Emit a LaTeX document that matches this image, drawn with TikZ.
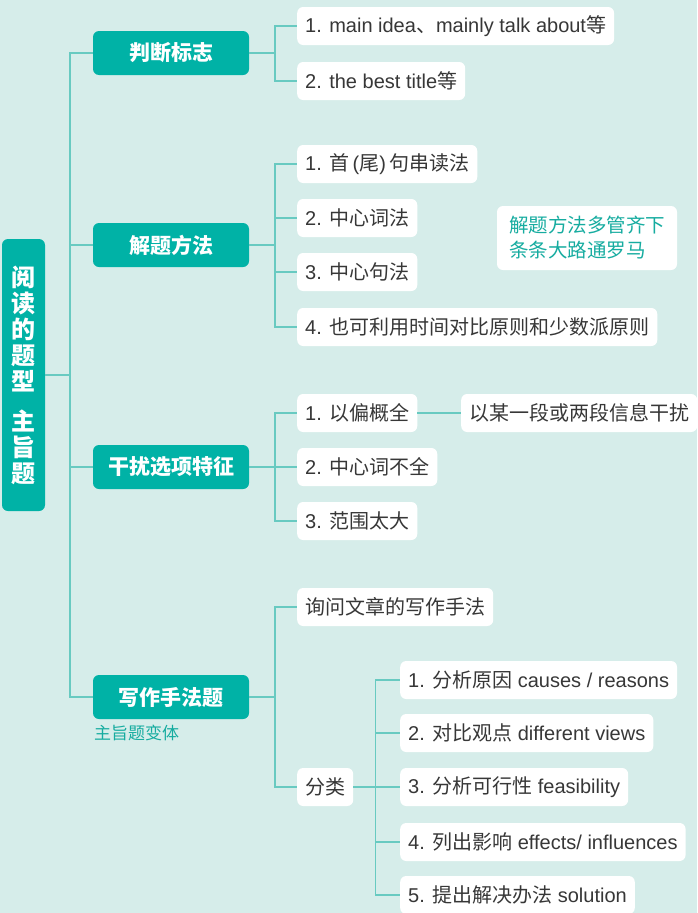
\documentclass[tikz,border=0pt]{standalone}
\usepackage{fontspec}
\setmainfont{Liberation Sans}
\newfontfamily\cjk{Noto Sans CJK SC}
\newcommand{\zh}[1]{{\cjk #1}}
\definecolor{bgmint}{RGB}{214,237,234}
\definecolor{boxteal}{RGB}{0,178,166}
\definecolor{linkteal}{RGB}{104,202,193}
\definecolor{leaftext}{RGB}{55,55,55}
\definecolor{notetext}{RGB}{22,172,160}
\tikzset{
  rootbox/.style={fill=boxteal, text=white, rounded corners=6pt, align=center,
    font=\cjk\bfseries\fontsize{24}{26}\selectfont, minimum width=43pt, minimum height=272pt, inner sep=0pt},
  mainbox/.style={fill=boxteal, text=white, rounded corners=6pt,
    font=\cjk\bfseries\fontsize{21}{24}\selectfont, minimum width=156pt, minimum height=44pt, inner sep=0pt},
  leafbox/.style={fill=white, text=leaftext, rounded corners=6pt, anchor=west,
    minimum height=38pt, inner xsep=8pt, inner ysep=0pt, font=\fontsize{20}{24}\selectfont},
  notebox/.style={fill=white, text=notetext, rounded corners=6pt, align=left,
    minimum width=180pt, minimum height=64pt, font=\cjk\fontsize{19.5}{25}\selectfont},
  link/.style={draw=linkteal, line width=1.5pt}
}
\begin{document}
\begin{tikzpicture}[x=1pt,y=-1pt]
  \useasboundingbox (0,0) rectangle (697,913);
  \clip (0,0) rectangle (697,913);
  \fill[bgmint] (0,0) rectangle (697,913);

  % Marking root and branches
  \node[rootbox] (root) at (23.5,375) {阅\\读\\的\\题\\型\\[14pt]主\\旨\\题};
  \coordinate (trunk) at (70,375);
  \node[mainbox] (pd) at (171,53) {判断标志};
  \node[mainbox] (jf) at (171,245) {解题方法};
  \node[mainbox] (gr) at (171,467) {干扰选项特征};
  \node[mainbox] (xz) at (171,697) {写作手法题};
  \node[anchor=west, inner sep=0pt, text=notetext, font=\cjk\fontsize{17}{20}\selectfont] (bianti) at (94,733) {主旨题变体};

  % Marking leaves of 判断标志
  \node[leafbox] (pd1) at (297,26) {1. main idea\zh{、}mainly talk about\zh{等}};
  \node[leafbox] (pd2) at (297,81) {2. the best title\zh{等}};

  % Marking leaves of 解题方法
  \node[leafbox] (jf1) at (297,164) {1. \zh{首}\,(\zh{尾})\,\zh{句串读法}};
  \node[leafbox] (jf2) at (297,218) {2. \zh{中心词法}};
  \node[leafbox] (jf3) at (297,272) {3. \zh{中心句法}};
  \node[leafbox] (jf4) at (297,327) {4. \zh{也可利用时间对比原则和少数派原则}};
  \node[notebox] (note) at (587,238) {解题方法多管齐下\\条条大路通罗马};

  % Marking leaves of 干扰选项特征
  \node[leafbox] (gr1) at (297,413) {1. \zh{以偏概全}};
  \node[leafbox] (gr1x) at (461,413) {\zh{以某一段或两段信息干扰}};
  \node[leafbox] (gr2) at (297,467) {2. \zh{中心词不全}};
  \node[leafbox] (gr3) at (297,521) {3. \zh{范围太大}};

  % Marking leaves of 写作手法题
  \node[leafbox] (xz1) at (297,607) {\zh{询问文章的写作手法}};
  \node[leafbox] (xz2) at (297,787) {\zh{分类}};
  \node[leafbox] (fl1) at (400,680) {1. \zh{分析原因} causes / reasons};
  \node[leafbox] (fl2) at (400,733) {2. \zh{对比观点} different views};
  \node[leafbox] (fl3) at (400,787) {3. \zh{分析可行性} feasibility};
  \node[leafbox] (fl4) at (400,842) {4. \zh{列出影响} effects/ influences};
  \node[leafbox] (fl5) at (400,895) {5. \zh{提出解决办法} solution};

  % Drawing lines
  \draw[link] (root.east) -- (trunk);
  \foreach \b in {pd,jf,gr,xz}
    \draw[link] (trunk) |- (\b.west);
  \foreach \l in {pd1,pd2}
    \draw[link] (pd.east) -- ++(26,0) |- (\l.west);
  \foreach \l in {jf1,jf2,jf3,jf4}
    \draw[link] (jf.east) -- ++(26,0) |- (\l.west);
  \foreach \l in {gr1,gr2,gr3}
    \draw[link] (gr.east) -- ++(26,0) |- (\l.west);
  \draw[link] (gr1.east) -- (gr1x.west);
  \foreach \l in {xz1,xz2}
    \draw[link] (xz.east) -- ++(26,0) |- (\l.west);
  \foreach \l in {fl1,fl2,fl3,fl4,fl5}
    \draw[link] (xz2.east) -- ++(22,0) |- (\l.west);
\end{tikzpicture}
\end{document}
